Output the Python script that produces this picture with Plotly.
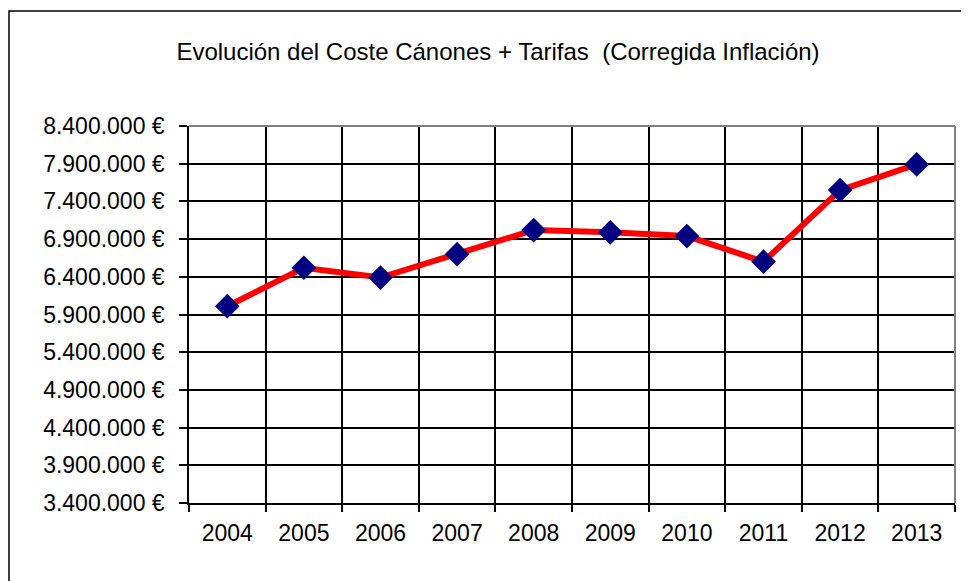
import plotly.graph_objects as go

years = ["2004", "2005", "2006", "2007", "2008", "2009", "2010", "2011", "2012", "2013"]
coste = [6010000, 6520000, 6390000, 6700000, 7020000, 6990000, 6940000, 6600000, 7550000, 7890000]
y_tickvals = [3400000, 3900000, 4400000, 4900000, 5400000, 5900000, 6400000, 6900000, 7400000, 7900000, 8400000]
y_ticktext = ["3.400.000 €", "3.900.000 €", "4.400.000 €", "4.900.000 €", "5.400.000 €", "5.900.000 €",
              "6.400.000 €", "6.900.000 €", "7.400.000 €", "7.900.000 €", "8.400.000 €"]
title_text = "Evolución del Coste Cánones + Tarifas  (Corregida Inflación)"

# page body has an 8px margin, so the figure starts at (8, 8) in the window
OFF = 8
W, H = 969 - OFF, 581 - OFF
# plot area in window pixels: x 189..955, y 126..503
L, R, T, B = 189 - OFF, 969 - 955, 126 - OFF, 581 - 503
pw, ph = W - L - R, H - T - B

def px_x(p):
    return (p - OFF - L) / pw

def px_y(p):
    return (503 - p) / ph

fig = go.Figure()
fig.add_trace(go.Scatter(
    x=years, y=coste, mode="lines+markers",
    line=dict(color="#ff0000", width=6),
    marker=dict(symbol="diamond", size=19, color="#000080", line=dict(width=0)),
    hoverinfo="x+y", showlegend=False,
))

fig.update_layout(
    width=W, height=H,
    margin=dict(l=L, r=R, t=T, b=B),
    paper_bgcolor="white", plot_bgcolor="white",
    font=dict(family="Liberation Sans, Arial, sans-serif", color="black"),
    title=dict(text=title_text, x=px_x(498), xref="paper", xanchor="center",
               y=1 - (52 - OFF) / H, yanchor="middle", font=dict(size=24, color="black")),
    xaxis=dict(
        type="category", tickson="boundaries", range=[-0.5, 9.5],
        showgrid=True, gridcolor="black", gridwidth=1.5,
        showline=True, linecolor="black", linewidth=1.5,
        ticks="outside", ticklen=7, tickcolor="black", tickwidth=1.5,
        tickfont=dict(size=23, color="black"), ticklabelstandoff=9,
        zeroline=False,
    ),
    yaxis=dict(
        range=[3400000, 8400000], tickvals=y_tickvals, ticktext=y_ticktext,
        showgrid=True, gridcolor="black", gridwidth=1.5,
        showline=True, linecolor="black", linewidth=1.5,
        ticks="outside", ticklen=8, tickcolor="black", tickwidth=1.5,
        tickfont=dict(size=23, color="black"), ticklabelstandoff=10,
        zeroline=False,
    ),
    shapes=[
        # outer chart frame (extends past the right and bottom edges)
        dict(type="rect", xref="paper", yref="paper",
             x0=px_x(9), x1=px_x(990), y0=px_y(600), y1=px_y(11),
             line=dict(color="black", width=1.5), fillcolor="rgba(0,0,0,0)", layer="below"),
        # gray top and right plot border
        dict(type="line", xref="paper", yref="paper", x0=0, x1=1, y0=1, y1=1,
             line=dict(color="#808080", width=2), layer="above"),
        dict(type="line", xref="paper", yref="paper", x0=1, x1=1, y0=0, y1=1,
             line=dict(color="#808080", width=2), layer="above"),
    ],
)

fig.write_html("out.html")
